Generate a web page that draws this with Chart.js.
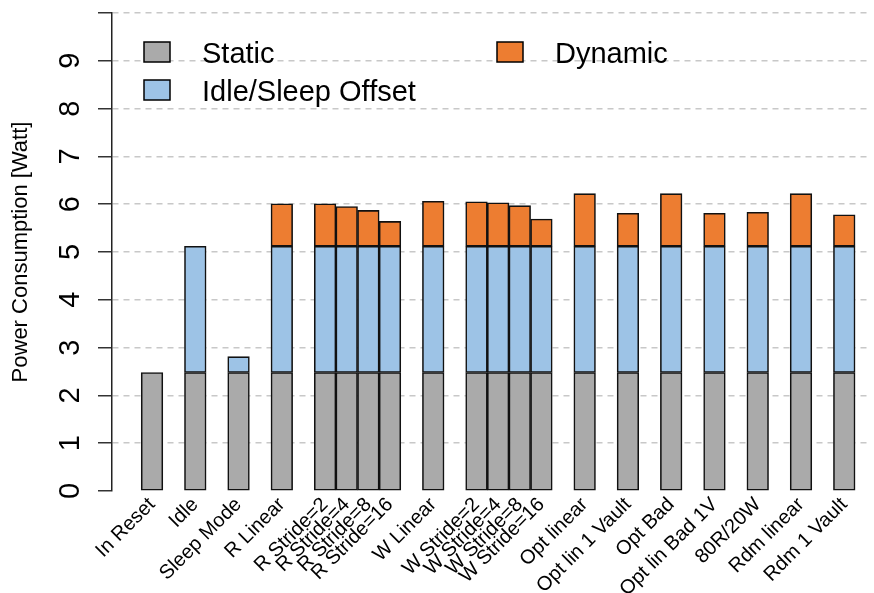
<!DOCTYPE html>
<html>
<head>
<meta charset="utf-8">
<script src="https://cdn.jsdelivr.net/npm/chart.js@4.4.1/dist/chart.umd.min.js"></script>
<style>
  body { margin: 0; background: #fff; }
  #wrap { width: 874px; height: 593px; }
</style>
</head>
<body>
<div id="wrap"><canvas id="powerChart"></canvas></div>
<script>
// bars in the same group touch, groups are separated by one empty slot
var groups = [
    ['In Reset'], ['Idle'], ['Sleep Mode'], ['R Linear'],
    ['R Stride=2', 'R Stride=4', 'R Stride=8', 'R Stride=16'],
    ['W Linear'],
    ['W Stride=2', 'W Stride=4', 'W Stride=8', 'W Stride=16'],
    ['Opt linear'], ['Opt lin 1 Vault'], ['Opt Bad'], ['Opt lin Bad 1V'],
    ['80R/20W'], ['Rdm linear'], ['Rdm 1 Vault']
];
var seriesNames = ['Static', 'Idle/Sleep Offset', 'Dynamic'];
var staticPower = [2.48, 2.48, 2.48, 2.48, 2.48, 2.48, 2.48, 2.48, 2.48, 2.48,
                   2.48, 2.48, 2.48, 2.48, 2.48, 2.48, 2.48, 2.48, 2.48, 2.48];
var offsetPower = [null, 2.64, 0.33, 2.64, 2.64, 2.64, 2.64, 2.64, 2.64, 2.64,
                   2.64, 2.64, 2.64, 2.64, 2.64, 2.64, 2.64, 2.64, 2.64, 2.64];
var dynamicPower = [null, null, null, 0.89, 0.89, 0.83, 0.75, 0.52, 0.94, 0.93,
                    0.91, 0.85, 0.57, 1.10, 0.69, 1.10, 0.69, 0.71, 1.10, 0.66];
var yTicks = [0, 1, 2, 3, 4, 5, 6, 7, 8, 9];
var colors = ['#aaaaaa', '#9dc3e6', '#ed7d31'];

var categories = [];
var positions = [];
var slot = 0;
groups.forEach(function (g, gi) {
    if (gi > 0) slot += 1;
    g.forEach(function (name) {
        categories.push(name);
        positions.push(slot);
        slot += 1;
    });
});

function points(values) {
    return values.map(function (v, i) { return { x: positions[i], y: v }; });
}

Chart.defaults.font.family = '"Liberation Sans", Arial, sans-serif';
Chart.defaults.color = '#000';

// R style legend: two columns, boxes with black outline
var boxLegend = {
    id: 'boxLegend',
    afterDraw: function (chart) {
        var ctx = chart.ctx;
        var spots = [[144, 42], [144, 80], [497, 42]];
        ctx.save();
        ctx.font = '29px "Liberation Sans", Arial, sans-serif';
        ctx.textBaseline = 'alphabetic';
        chart.data.datasets.forEach(function (ds, i) {
            var x = spots[i][0], y = spots[i][1];
            ctx.fillStyle = ds.backgroundColor;
            ctx.fillRect(x, y, 26, 20);
            ctx.lineWidth = 1.5;
            ctx.strokeStyle = '#000';
            ctx.strokeRect(x, y, 26, 20);
            ctx.fillStyle = '#000';
            ctx.fillText(ds.label, x + 58, y + 21);
        });
        ctx.restore();
    }
};

var ctx = document.getElementById('powerChart').getContext('2d');
var powerChart = new Chart(ctx, {
    type: 'bar',
    data: {
        datasets: [
            { label: seriesNames[0], data: points(staticPower), backgroundColor: colors[0] },
            { label: seriesNames[1], data: points(offsetPower), backgroundColor: colors[1] },
            { label: seriesNames[2], data: points(dynamicPower), backgroundColor: colors[2] }
        ]
    },
    options: {
        responsive: true,
        maintainAspectRatio: false,
        animation: false,
        layout: { padding: { left: 0, right: 4, top: 13, bottom: 0 } },
        datasets: {
            bar: {
                borderColor: '#111',
                borderWidth: 1.6,
                borderSkipped: false,
                barPercentage: 1,
                categoryPercentage: 1
            }
        },
        plugins: {
            legend: { display: false },
            tooltip: { enabled: false }
        },
        scales: {
            x: {
                type: 'linear',
                stacked: true,
                offset: false,
                min: -1.85,
                max: 33.19,
                grid: { display: false, drawTicks: false, offset: false },
                border: { display: false },
                afterBuildTicks: function (scale) {
                    scale.ticks = positions.map(function (p) { return { value: p }; });
                },
                afterFit: function (scale) {
                    scale.height = 102;
                    scale.paddingLeft = 0;
                    scale.paddingRight = 0;
                },
                ticks: {
                    autoSkip: false,
                    minRotation: 45,
                    maxRotation: 45,
                    padding: 2,
                    font: { size: 20 },
                    callback: function (value, index) { return categories[index]; }
                }
            },
            y: {
                stacked: true,
                min: 0,
                max: 10,
                afterBuildTicks: function (scale) {
                    scale.ticks = yTicks.concat([10]).map(function (v) { return { value: v }; });
                },
                afterFit: function (scale) {
                    scale.width = 112;
                    scale.paddingTop = 0;
                    scale.paddingBottom = 0;
                },
                grid: {
                    color: function (c) {
                        return c.tick && c.tick.value === 0 ? 'rgba(0,0,0,0)' : '#c8c8c8';
                    },
                    lineWidth: 1.5,
                    tickLength: 14,
                    tickColor: '#333',
                    tickWidth: 1.5,
                    tickBorderDash: []
                },
                border: { display: true, color: '#222', width: 1.5, dash: [6, 5] },
                ticks: {
                    minRotation: 90,
                    maxRotation: 90,
                    crossAlign: 'center',
                    padding: 19,
                    font: { size: 29, lineHeight: 0.9 },
                    callback: function (value) {
                        return yTicks.indexOf(value) >= 0 ? String(value) : '';
                    }
                },
                title: {
                    display: true,
                    text: 'Power Consumption [Watt]',
                    font: { size: 22 },
                    padding: { top: 8, bottom: 0 }
                }
            }
        }
    },
    plugins: [boxLegend]
});
</script>
</body>
</html>
